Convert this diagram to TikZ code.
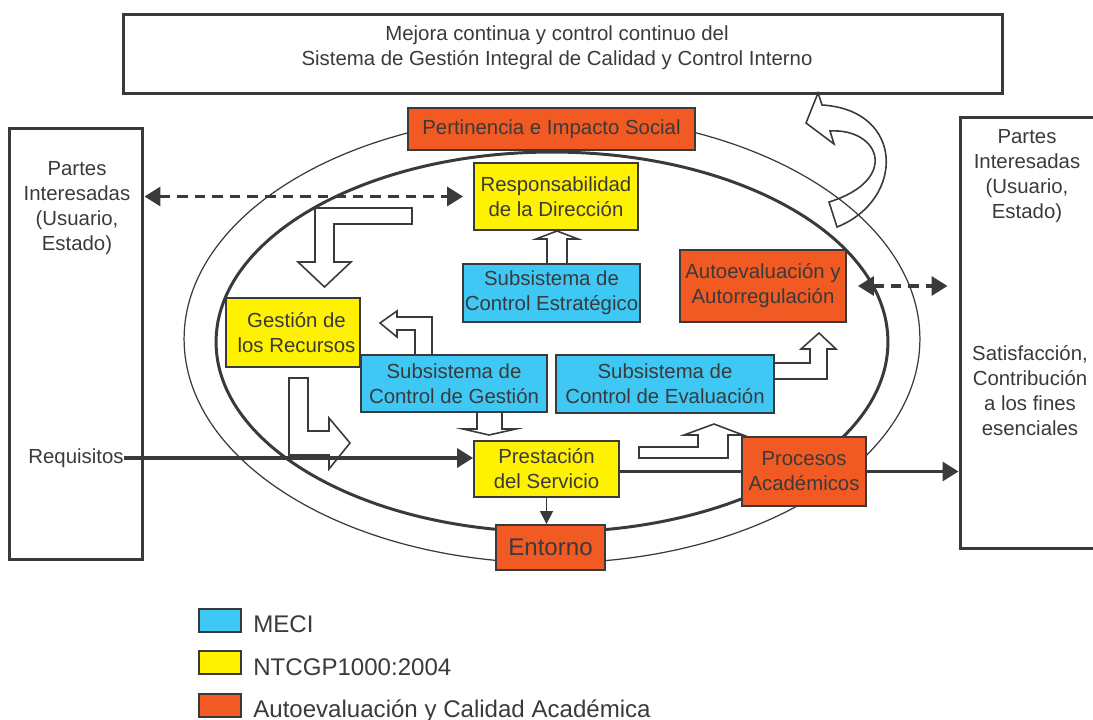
\documentclass[tikz,border=0pt]{standalone}
\usepackage{fontspec}
\setmainfont{Liberation Sans}
\usetikzlibrary{arrows.meta, positioning}
\definecolor{meciblue}{HTML}{3FC8F4}
\definecolor{ntcyellow}{HTML}{FFF200}
\definecolor{acadorange}{HTML}{F15A22}
\definecolor{linegray}{HTML}{3A3A3C}

\begin{document}
\begin{tikzpicture}[x=0.02cm, y=-0.02cm,
    font=\fontsize{11.6}{14.2}\selectfont, text=linegray,
    box/.style={draw=linegray, line width=1.1pt, align=center, inner sep=0pt},
    meci/.style={box, fill=meciblue},
    ntc/.style={box, fill=ntcyellow},
    acad/.style={box, fill=acadorange},
    frame/.style={draw=linegray, line width=1.7pt, inner sep=0pt},
    hollow/.style={draw=linegray, line width=0.9pt, fill=white, line join=miter},
    conn/.style={draw=linegray, line width=1.9pt},
    dashconn/.style={conn, dash pattern=on 6pt off 4pt},
    legtxt/.style={font=\fontsize{13.7}{16}\selectfont, inner sep=0pt},
    >={Triangle[length=0.32cm, width=0.38cm]}]
  \useasboundingbox (0,0) rectangle (1093,720);

  % ellipses
  \draw[draw=linegray, line width=0.7pt] (552,339) ellipse [x radius=7.36cm, y radius=4.48cm];
  \draw[draw=linegray, line width=1.7pt] (552,342) ellipse [x radius=6.72cm, y radius=3.8cm];

  % frames
  \node[frame, minimum width=17.6cm, minimum height=1.6cm] (mejora) at (563,54) {};
  \node[align=center] (mejorat) at (557,48) {Mejora continua y control continuo del\\Sistema de Gesti\'on Integral de Calidad y Control Interno};
  \node[frame, minimum width=2.68cm, minimum height=8.64cm] (izq) at (76,344) {};
  \node[align=center] (izqt) at (77,208) {Partes\\Interesadas\\(Usuario,\\Estado)};
  \node[inner sep=0pt] (req) at (76,458) {Requisitos};
  \node[frame, minimum width=3cm, minimum height=8.64cm] (der) at (1035,333) {};
  \node[align=center] (dert) at (1027,176) {Partes\\Interesadas\\(Usuario,\\Estado)};
  \node[align=center] (sat) at (1030,391) {Satisfacci\'on,\\Contribuci\'on\\a los fines\\esenciales};

  % hollow arrows
  \draw[hollow] (412,208) -- (315,208) -- (315,262) -- (298,262) -- (324.5,287)
    -- (351,262) -- (334,262) -- (334,224) -- (412,224) -- cycle;
  \draw[hollow] (289,378) -- (289,455) -- (329,455) -- (329,469) -- (350,443)
    -- (329,418) -- (329,431) -- (308,431) -- (308,378) -- cycle;
  \draw[hollow] (415,356) -- (415,330) -- (397,330) -- (397,337) -- (380,323)
    -- (397,311) -- (397,317) -- (432,317) -- (432,356) -- cycle;
  \draw[hollow] (547,265) -- (547,239) -- (536,239) -- (557,231) -- (578,239)
    -- (567,239) -- (567,265) -- cycle;
  \draw[hollow] (477,411) -- (477,429) -- (463,429) -- (489,435) -- (516,429)
    -- (502,429) -- (502,411) -- cycle;
  \draw[hollow] (772,363) -- (810,363) -- (810,349) -- (801,349) -- (819,333)
    -- (836,349) -- (827,349) -- (827,379) -- (772,379) -- cycle;
  \draw[hollow] (639,447) -- (698,447) -- (698,435) -- (684,435) -- (714,424)
    -- (743,435) -- (728,435) -- (728,458) -- (639,458) -- cycle;
  \draw[draw=linegray, line width=0.9pt, line join=miter]
    (818,93) -- (806,123) -- (834,144) -- (830,131)
    .. controls (880,128) and (900,180) .. (829,202)
    -- (837,227) .. controls (905,200) and (905,110) .. (822,105) -- cycle;

  % boxes
  \node[acad, minimum width=5.74cm, minimum height=0.84cm] (pert) at (551.5,129) {Pertinencia e Impacto Social};
  \node[ntc, minimum width=3.28cm, minimum height=1.34cm] (resp) at (556,196.5) {Responsabilidad\\de la Direcci\'on};
  \node[meci, minimum width=3.54cm, minimum height=1.16cm] (estr) at (551.5,293) {Subsistema de\\Control Estrat\'egico};
  \node[acad, minimum width=3.32cm, minimum height=1.44cm] (auto) at (763,286) {Autoevaluaci\'on y\\Autorregulaci\'on};
  \node[ntc, minimum width=2.68cm, minimum height=1.38cm] (recur) at (293,332.5) {\hspace*{0.14cm}Gesti\'on de\\\hspace*{0.14cm}los Recursos};
  \node[meci, minimum width=3.72cm, minimum height=1.14cm] (gest) at (454,383.5) {Subsistema de\\Control de Gesti\'on};
  \node[meci, minimum width=4.36cm, minimum height=1.16cm] (eval) at (665,384) {Subsistema de\\Control de Evaluaci\'on};
  \node[ntc, minimum width=2.9cm, minimum height=1.12cm] (prest) at (546.5,469) {Prestaci\'on\\del Servicio};
  \node[acad, minimum width=2.48cm, minimum height=1.38cm] (proc) at (804,471.5) {Procesos\\Acad\'emicos};
  \node[acad, minimum width=2.18cm, minimum height=0.9cm, font=\fontsize{13.7}{16}\selectfont] (ent) at (550.5,547.5) {Entorno};

  % connectors
  \draw[dashconn, <->, shorten >=0.2cm] (izq.east |- resp.west) -- (resp.west);
  \draw[dashconn, <->, shorten <=0.22cm, shorten >=0.22cm] (auto.east) -- (auto.east -| der.west);
  \draw[conn, ->] (req.east) -- (req.east -| prest.west);
  \draw[conn] (prest.east |- proc.west) -- (proc.west);
  \draw[conn, ->] (proc.east) -- (proc.east -| der.west);
  \draw[draw=linegray, line width=0.9pt, -{Triangle[length=0.26cm, width=0.26cm]}] (prest.south) -- (prest.south |- ent.north);

  % legend
  \node[meci, minimum width=0.84cm, minimum height=0.46cm] (lgm) at (220,620.5) {};
  \node[ntc, minimum width=0.84cm, minimum height=0.46cm, below=0.35cm of lgm] (lgn) {};
  \node[acad, minimum width=0.84cm, minimum height=0.46cm, below=0.35cm of lgn] (lga) {};
  \node[legtxt, anchor=base west] (lgmt) at ([xshift=0.22cm]lgm.south east) {MECI};
  \node[legtxt, anchor=base west] (lgnt) at ([xshift=0.22cm]lgn.south east) {NTCGP1000:2004};
  \node[legtxt, anchor=base west] (lgat) at ([xshift=0.22cm]lga.south east) {Autoevaluaci\'on y Calidad Acad\'emica};
\end{tikzpicture}
\end{document}
